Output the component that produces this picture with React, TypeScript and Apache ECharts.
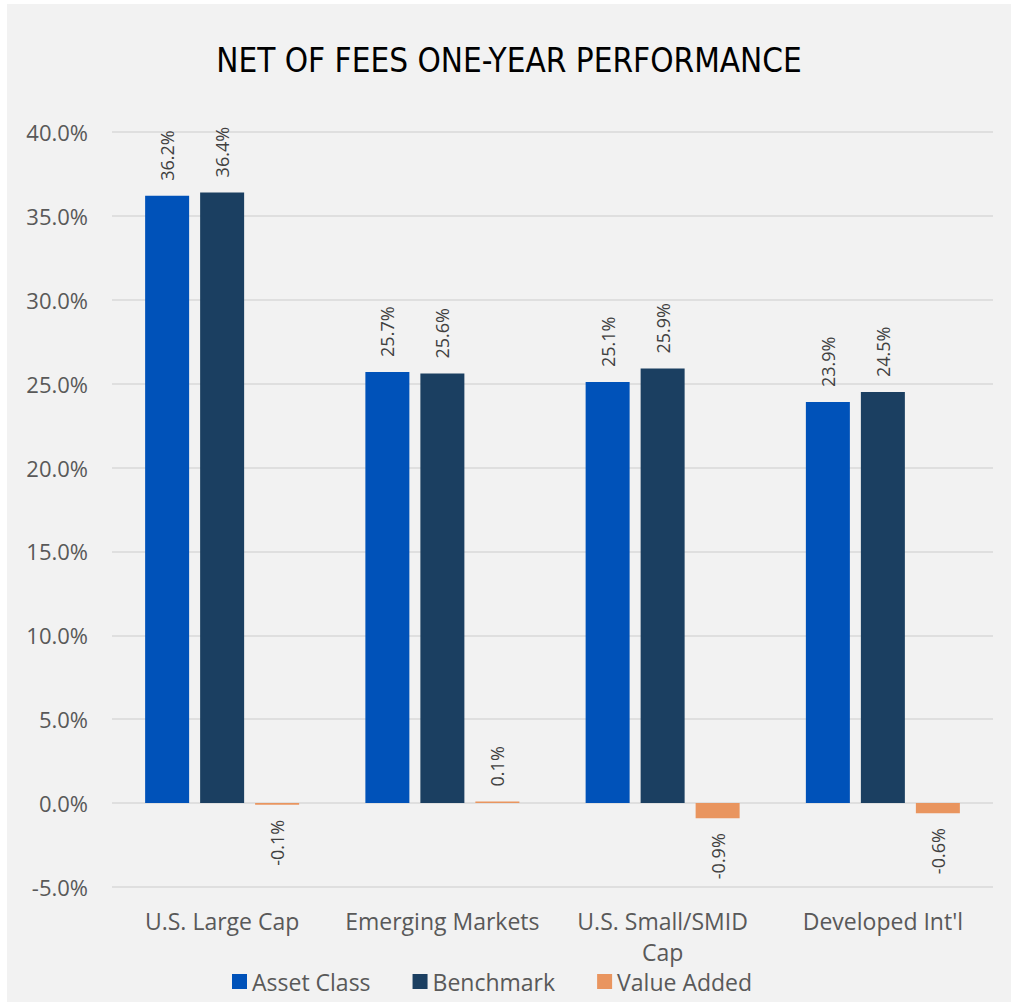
import React, { useEffect, useRef } from "react";
import * as echarts from "echarts";

const categories = ["U.S. Large Cap", "Emerging Markets", "U.S. Small/SMID Cap", "Developed Int'l"];
const assetClass = [36.2, 25.7, 25.1, 23.9];
const benchmark = [36.4, 25.6, 25.9, 24.5];
const valueAdded = [-0.1, 0.1, -0.9, -0.6];
const seriesNames = ["Asset Class", "Benchmark", "Value Added"];
const colors = ["#0052b9", "#1b3f61", "#e9955f"];
const yMin = -5;
const yMax = 40;
const yInterval = 5;

const FONT = "'Open Sans', 'Noto Sans', sans-serif";

function buildSeries(name: string, values: number[], color: string) {
  return {
    name,
    type: "bar",
    barWidth: 44,
    barGap: "25%",
    itemStyle: { color },
    label: {
      show: true,
      position: "top",
      rotate: 90,
      align: "left",
      verticalAlign: "middle",
      distance: 15,
      color: "#404040",
      fontFamily: FONT,
      fontSize: 18,
      formatter: (p: any) => `${Number(p.value).toFixed(1)}%`,
    },
    data: values.map((v) =>
      v < 0
        ? { value: v, label: { position: "bottom", align: "right" } }
        : v
    ),
  };
}

export default function App() {
  const ref = useRef<HTMLDivElement>(null);
  useEffect(() => {
    if (!ref.current) return;
    const chart = echarts.init(ref.current, null, { renderer: "svg" });
    chart.setOption({
      animation: false,
      backgroundColor: "#f2f2f2",
      title: {
        text: "NET OF FEES ONE-YEAR PERFORMANCE",
        left: "center",
        top: 35,
        textStyle: {
          fontFamily: "'Liberation Sans Narrow', 'DejaVu Sans Condensed', sans-serif",
          fontWeight: "normal",
          fontSize: 33,
          color: "#000000",
        },
      },
      legend: {
        top: 961,
        left: 220,
        itemWidth: 15,
        itemHeight: 15,
        itemGap: 42,
        icon: "rect",
        textStyle: { fontFamily: FONT, fontSize: 23, color: "#595959" },
        data: seriesNames,
      },
      grid: { left: 105, right: 18, top: 128, bottom: 115, containLabel: false },
      xAxis: {
        type: "category",
        data: categories,
        axisLine: { show: false },
        axisTick: { show: false },
        axisLabel: {
          fontFamily: FONT,
          fontSize: 23,
          color: "#595959",
          margin: 18,
          lineHeight: 31,
          interval: 0,
          formatter: (v: string) => v.replace("SMID ", "SMID\n"),
        },
      },
      yAxis: {
        type: "value",
        min: yMin,
        max: yMax,
        interval: yInterval,
        axisLine: { show: false },
        axisTick: { show: false },
        splitLine: { lineStyle: { color: "#d9d9d9", width: 1.5 } },
        axisLabel: {
          fontFamily: FONT,
          fontSize: 22,
          color: "#595959",
          margin: 24,
          formatter: (v: number) => `${v.toFixed(1)}%`,
        },
      },
      series: [
        buildSeries(seriesNames[0], assetClass, colors[0]),
        buildSeries(seriesNames[1], benchmark, colors[1]),
        buildSeries(seriesNames[2], valueAdded, colors[2]),
      ],
    });
    return () => chart.dispose();
  }, []);
  return (
    <div style={{ position: "absolute", left: 0, top: 0, width: 1011, height: 1002, background: "#ffffff" }}>
      <div ref={ref} style={{ position: "absolute", left: 7, top: 4, width: 1004, height: 998 }} />
    </div>
  );
}
